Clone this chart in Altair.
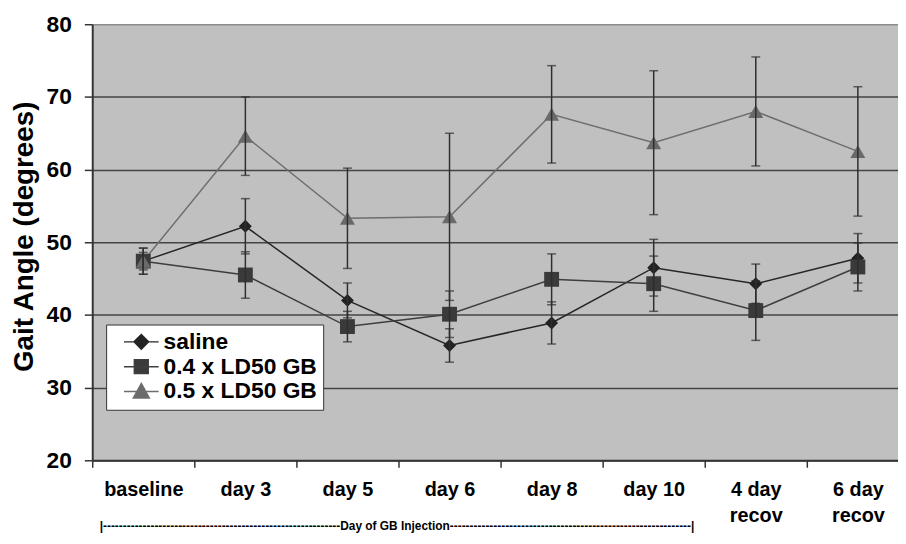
import altair as alt
import pandas as pd

# ---- data ----
categories = ["baseline", "day 3", "day 5", "day 6", "day 8", "day 10", "4 day recov", "6 day recov"]
series_names = ["saline", "0.4 x LD50 GB", "0.5 x LD50 GB"]

saline_mean = [47.4, 52.2, 42.0, 35.8, 38.9, 46.5, 44.3, 47.8]
saline_err = [1.8, 3.8, 2.4, 2.3, 2.9, 3.9, 2.7, 3.4]
ld04_mean = [47.4, 45.5, 38.4, 40.1, 44.9, 44.3, 40.6, 46.6]
ld04_err = [1.8, 3.2, 2.1, 3.2, 3.5, 3.8, 4.1, 3.3]
ld05_mean = [47.4, 64.6, 53.3, 53.5, 67.6, 63.7, 68.0, 62.5]
ld05_err = [1.2, 5.4, 6.9, 11.5, 6.7, 9.9, 7.5, 8.9]

y_ticks = [20, 30, 40, 50, 60, 70, 80]

# ---- styling ----
FONT = "Liberation Sans"
line_colors = ["#262626", "#3e3e3e", "#6e6e6e"]
marker_fills = ["#222222", "#3a3a3a", "#6a6a6a"]
marker_shapes = ["diamond", "square", "triangle-up"]
marker_sizes = [170, 225, 230]
legend_paths = [
    "M-2.5,0H2.5M0,-1.05L1.05,0L0,1.05L-1.05,0Z",
    "M-2.5,0H2.5M-1,-1H1V1H-1Z",
    "M-2.5,0H2.5M0,-1.15L1.15,0.95H-1.15Z",
]
annotation = "|" + "-" * 60 + "Day of GB Injection" + "-" * 61 + "|"

rows = []
for name, means, errs in zip(series_names, [saline_mean, ld04_mean, ld05_mean],
                             [saline_err, ld04_err, ld05_err]):
    for i, (c, m, e) in enumerate(zip(categories, means, errs)):
        rows.append({"day": c, "idx": i, "series": name, "mean": m, "err": e})
df = pd.DataFrame(rows)
legend_df = pd.DataFrame({"series": series_names})

x_scale = alt.Scale(domain=categories, range=[0, 824], paddingInner=0, paddingOuter=0)
x_axis = alt.Axis(
    title=annotation, labelAngle=0, labelFont=FONT, labelFontSize=20,
    labelFontWeight="bold", labelColor="black", labelPadding=13, labelLineHeight=26,
    labelOverlap=False, labelLimit=200,
    labelExpr="test(/ recov/, datum.value) ? [replace(datum.value, ' recov', ''), 'recov'] : datum.value",
    tickBand="extent", tickSize=7, tickColor="#333333", tickWidth=1.5,
    domainColor="#333333", domainWidth=2, grid=False,
    titleFont=FONT, titleFontSize=12, titleFontWeight="bold", titleColor="black",
    titleAnchor="start", titleAlign="left", titleBaseline="middle", titleX=7, titleY=66,
)
y_scale = alt.Scale(domain=[20, 80], nice=False, zero=False)
y_title = "Gait Angle (degrees)"
y_axis = alt.Axis(
    values=y_ticks, title=y_title, titleFont=FONT, titleFontSize=28,
    titleFontWeight="bold", titleColor="black", titlePadding=8, titleY=214,
    labelFont=FONT, labelFontSize=23, labelFontWeight="bold", labelColor="black",
    labelPadding=13, tickSize=8, tickWidth=1.5, tickColor="#333333",
    domainColor="#333333", domainWidth=2, grid=True,
    gridColor={"condition": {"test": "datum.value == 80", "value": "#8c8c8c"}, "value": "#444444"},
    gridWidth=1.5,
)

x_enc = alt.X("day:N", scale=x_scale, axis=x_axis)


def y_enc(field):
    return alt.Y(f"{field}:Q", title=y_title, scale=y_scale, axis=y_axis)


base = alt.Chart(df).transform_calculate(
    lo="datum.mean - datum.err", hi="datum.mean + datum.err"
)

line_layers = []
point_layers = []
for name, lc, shp, fc, sz in zip(series_names, line_colors, marker_shapes, marker_fills, marker_sizes):
    one = base.transform_filter(alt.datum.series == name)
    line_layers.append(
        one.mark_line(strokeWidth=1.5, color=lc).encode(
            x=x_enc, y=y_enc("mean"), order=alt.Order("idx:Q")
        )
    )
    point_layers.append(
        one.mark_point(shape=shp, filled=True, size=sz, color=fc, opacity=1)
        .encode(x=x_enc, y=y_enc("mean"))
    )

bars = base.mark_rule(color="#2e2e2e", strokeWidth=1.5).encode(
    x=x_enc, y=y_enc("lo"), y2="hi:Q"
)
caps_lo = base.mark_tick(color="#2e2e2e", size=9, thickness=1.5, orient="horizontal").encode(
    x=x_enc, y=y_enc("lo")
)
caps_hi = base.mark_tick(color="#2e2e2e", size=9, thickness=1.5, orient="horizontal").encode(
    x=x_enc, y=y_enc("hi")
)

leg = alt.Legend(
    title=None, orient="none", legendX=14, legendY=303, fillColor="white",
    strokeColor="#333333", padding=6, symbolSize=196, symbolOffset=18,
    labelOffset=11, labelFont=FONT, labelFontSize=23, labelFontWeight="bold",
    labelColor="black", rowPadding=1, labelLimit=300, symbolStrokeWidth=1.5,
)
# legend carrier: its marks sit outside the plot and are clipped away
legend_layer = alt.Chart(legend_df).mark_point(
    filled=True, strokeWidth=1.5, opacity=1, clip=True
).encode(
    x=alt.value(-200), y=alt.value(-200),
    shape=alt.Shape("series:N", scale=alt.Scale(domain=series_names, range=legend_paths), legend=leg),
    fill=alt.Fill("series:N", scale=alt.Scale(domain=series_names, range=marker_fills), legend=leg),
    stroke=alt.Stroke("series:N", scale=alt.Scale(domain=series_names, range=line_colors), legend=leg),
)

chart = alt.layer(*line_layers, *point_layers, bars, caps_lo, caps_hi, legend_layer).properties(
    width=813, height=440,
    autosize=alt.AutoSizeParams(type="none"),
    padding={"left": 85, "top": 14, "right": 0, "bottom": 74},
    background="white",
    view=alt.ViewBackground(fill="#c0c0c0", stroke="transparent"),
)

chart.save("out.html", embed_options={"renderer": "svg", "actions": False})
